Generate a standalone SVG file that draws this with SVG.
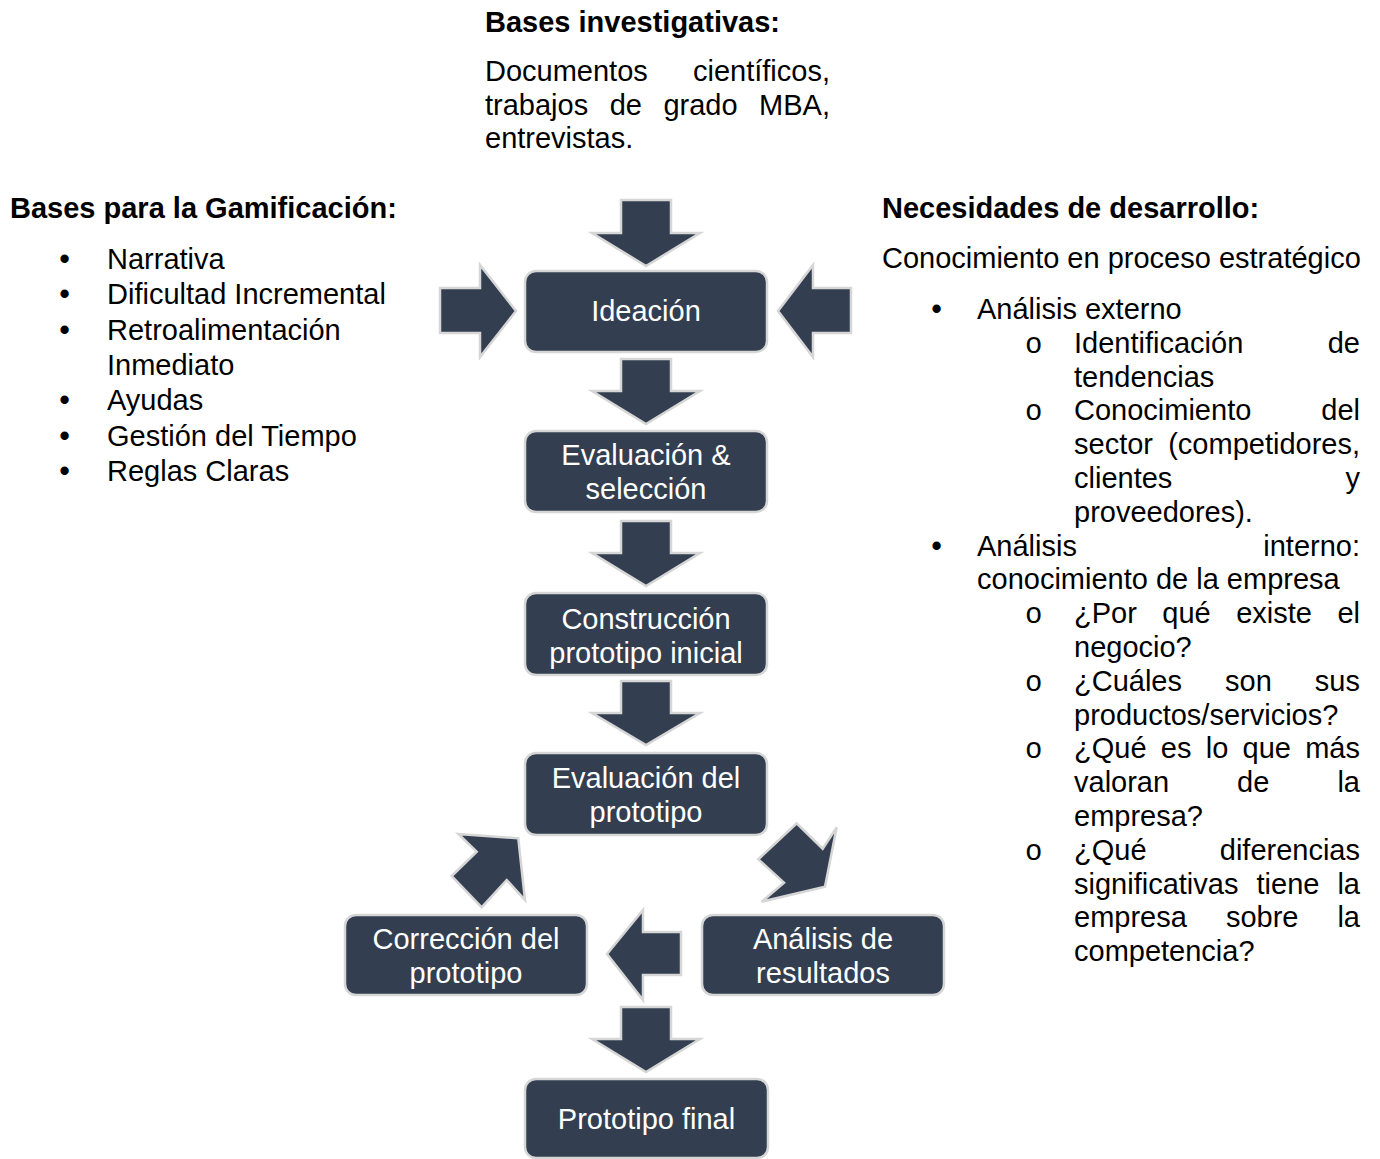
<svg xmlns="http://www.w3.org/2000/svg" width="1380" height="1159" viewBox="0 0 1380 1159">
<style>
  .box { fill: #333f50; stroke: #d6d6d6; stroke-width: 2.5; }
  .arr { fill: #333f50; stroke: #d6d6d6; stroke-width: 2.5; stroke-linejoin: miter; }
  .bt { font-family: "Liberation Sans", Arial, sans-serif; font-size: 29px; fill: #ffffff; text-anchor: middle; }
  .t { font-family: "Liberation Sans", Arial, sans-serif; font-size: 29px; fill: #000000; }
  .b { font-weight: bold; }
  .e { text-anchor: end; }
  .d { font-family: "Liberation Sans", Arial, sans-serif; font-size: 29px; font-weight: bold; fill: #000000; }
  .o { font-family: "Liberation Mono", "Courier New", monospace; font-size: 29px; fill: #000000; }
</style>
<rect width="1380" height="1159" fill="#ffffff"/>

<g id="text-investigativas">
  <text class="t b" x="485" y="32">Bases investigativas:</text>
  <text class="t" x="485" y="81">Documentos</text>
  <text class="t e" x="830" y="81">científicos,</text>
  <text class="t" x="485" y="115">trabajos</text>
  <text class="t" x="609.7" y="115">de</text>
  <text class="t" x="663.4" y="115">grado</text>
  <text class="t e" x="830" y="115">MBA,</text>
  <text class="t" x="485" y="148">entrevistas.</text>
</g>

<g id="text-gamificacion">
  <text class="t b" x="10" y="218">Bases para la Gamificación:</text>
  <text class="d" x="59.5" y="269">•</text><text class="t" x="107" y="269">Narrativa</text>
  <text class="d" x="59.5" y="304.3">•</text><text class="t" x="107" y="304.3">Dificultad Incremental</text>
  <text class="d" x="59.5" y="339.6">•</text><text class="t" x="107" y="339.6">Retroalimentación</text>
  <text class="t" x="107" y="374.9">Inmediato</text>
  <text class="d" x="59.5" y="410.2">•</text><text class="t" x="107" y="410.2">Ayudas</text>
  <text class="d" x="59.5" y="445.5">•</text><text class="t" x="107" y="445.5">Gestión del Tiempo</text>
  <text class="d" x="59.5" y="480.8">•</text><text class="t" x="107" y="480.8">Reglas Claras</text>
</g>

<g id="text-necesidades">
  <text class="t b" x="882" y="218">Necesidades de desarrollo:</text>
  <text class="t" x="882" y="267.5">Conocimiento en proceso estratégico</text>
  <text class="d" x="931.5" y="319">•</text><text class="t" x="977" y="319">Análisis externo</text>
  <text class="o" x="1025" y="352.8">o</text><text class="t" x="1074" y="352.8">Identificación</text><text class="t e" x="1360" y="352.8">de</text>
  <text class="t" x="1074" y="386.6">tendencias</text>
  <text class="o" x="1025" y="420.4">o</text><text class="t" x="1074" y="420.4">Conocimiento</text><text class="t e" x="1360" y="420.4">del</text>
  <text class="t" x="1074" y="454.2">sector</text><text class="t e" x="1360" y="454.2">(competidores,</text>
  <text class="t" x="1074" y="488">clientes</text><text class="t e" x="1360" y="488">y</text>
  <text class="t" x="1074" y="521.8">proveedores).</text>
  <text class="d" x="931.5" y="555.6">•</text><text class="t" x="977" y="555.6">Análisis</text><text class="t e" x="1360" y="555.6">interno:</text>
  <text class="t" x="977" y="589.4">conocimiento de la empresa</text>
  <text class="o" x="1025" y="623.2">o</text><text class="t" x="1074" y="623.2">¿Por</text><text class="t" x="1162.3" y="623.2">qué</text><text class="t" x="1236.2" y="623.2">existe</text><text class="t e" x="1360" y="623.2">el</text>
  <text class="t" x="1074" y="657">negocio?</text>
  <text class="o" x="1025" y="690.8">o</text><text class="t" x="1074" y="690.8">¿Cuáles</text><text class="t" x="1225.1" y="690.8">son</text><text class="t e" x="1360" y="690.8">sus</text>
  <text class="t" x="1074" y="724.6">productos/servicios?</text>
  <text class="o" x="1025" y="758.4">o</text><text class="t" x="1074" y="758.4">¿Qué</text><text class="t" x="1160.8" y="758.4">es</text><text class="t" x="1205.7" y="758.4">lo</text><text class="t" x="1242.6" y="758.4">que</text><text class="t e" x="1360" y="758.4">más</text>
  <text class="t" x="1074" y="792.2">valoran</text><text class="t" x="1237.1" y="792.2">de</text><text class="t e" x="1360" y="792.2">la</text>
  <text class="t" x="1074" y="826">empresa?</text>
  <text class="o" x="1025" y="859.8">o</text><text class="t" x="1074" y="859.8">¿Qué</text><text class="t e" x="1360" y="859.8">diferencias</text>
  <text class="t" x="1074" y="893.6">significativas</text><text class="t" x="1256.5" y="893.6">tiene</text><text class="t e" x="1360" y="893.6">la</text>
  <text class="t" x="1074" y="927.4">empresa</text><text class="t" x="1225.9" y="927.4">sobre</text><text class="t e" x="1360" y="927.4">la</text>
  <text class="t" x="1074" y="961.2">competencia?</text>
</g>

<g id="connectors">
  <polygon class="arr" points="621,200 671,200 671,233 700,233 646,266 592,233 621,233"/>
  <polygon class="arr" points="440,288 480,288 480,265 516,311 480,357 480,333 440,333"/>
  <polygon class="arr" points="851,288 813,288 813,265 778,311 813,357 813,333 851,333"/>
  <polygon class="arr" points="621,359 671,359 671,391 700,391 646,424 592,391 621,391"/>
  <polygon class="arr" points="621,521 671,521 671,553 700,553 646,586 592,553 621,553"/>
  <polygon class="arr" points="621,681 671,681 671,713 700,713 646,745 592,713 621,713"/>
  <polygon class="arr" points="796.7,823.3 822.7,848.7 836.7,827.3 825,886.7 761.7,901.7 784,882.7 758.3,859.3"/>
  <polygon class="arr" points="681,932 643,932 643,910 607,954 643,1000 643,975 681,975"/>
  <polygon class="arr" points="451.7,876 476.7,851.7 458.3,834 518.3,838.3 525,900 506.7,880 481.7,907.3"/>
  <polygon class="arr" points="621,1007 671,1007 671,1039 700,1039 646,1072 592,1039 621,1039"/>
</g>

<g id="node-ideacion">
  <rect class="box" x="525" y="271" width="242" height="81" rx="11"/>
  <text class="bt" x="646" y="321">Ideación</text>
</g>
<g id="node-evaluacion-seleccion">
  <rect class="box" x="525" y="431" width="242" height="81" rx="11"/>
  <text class="bt" x="646" y="465">Evaluación &amp;</text>
  <text class="bt" x="646" y="499">selección</text>
</g>
<g id="node-construccion">
  <rect class="box" x="525" y="593" width="242" height="82" rx="11"/>
  <text class="bt" x="646" y="628.5">Construcción</text>
  <text class="bt" x="646" y="662.5">prototipo inicial</text>
</g>
<g id="node-evaluacion-prototipo">
  <rect class="box" x="525" y="753" width="242" height="82" rx="11"/>
  <text class="bt" x="646" y="788">Evaluación del</text>
  <text class="bt" x="646" y="822">prototipo</text>
</g>
<g id="node-correccion">
  <rect class="box" x="345" y="915" width="242" height="80" rx="11"/>
  <text class="bt" x="466" y="948.5">Corrección del</text>
  <text class="bt" x="466" y="982.5">prototipo</text>
</g>
<g id="node-analisis">
  <rect class="box" x="702" y="915" width="242" height="80" rx="11"/>
  <text class="bt" x="823" y="948.5">Análisis de</text>
  <text class="bt" x="823" y="982.5">resultados</text>
</g>
<g id="node-prototipo-final">
  <rect class="box" x="525" y="1079" width="243" height="79" rx="11"/>
  <text class="bt" x="646.5" y="1129">Prototipo final</text>
</g>
</svg>
